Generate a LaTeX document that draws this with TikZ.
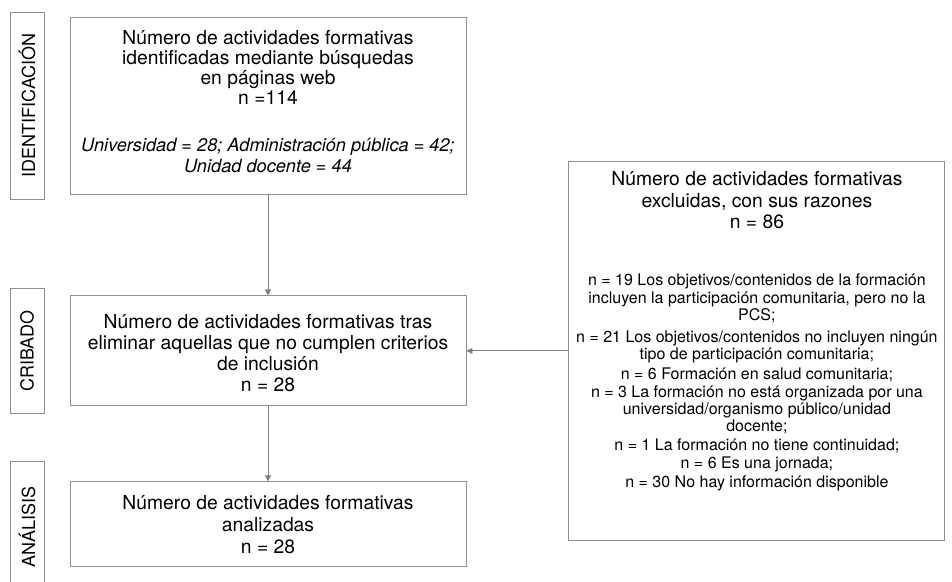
\documentclass[tikz,border=0pt]{standalone}
\usepackage{fontspec}
\setmainfont{TeX Gyre Heros}
\usetikzlibrary{positioning,arrows.meta}
\definecolor{boxgray}{HTML}{8E8E8E}
\definecolor{arrowgray}{HTML}{7F7F7F}
\newcommand{\headfont}{\fontsize{19.3}{21}\selectfont}
\newcommand{\notefont}{\fontsize{18.2}{20}\selectfont\itshape}

\begin{document}
\begin{tikzpicture}[x=1pt, y=-1pt,
    flowbox/.style={draw=boxgray, line width=0.9pt, minimum width=396pt, align=center, inner sep=0pt, font=\fontsize{19.3}{21}\selectfont},
    stagebox/.style={draw=boxgray, line width=0.9pt, minimum width=34pt, inner sep=0pt, font=\fontsize{18}{20}\selectfont},
    flowarrow/.style={-{Triangle[length=6pt, width=6pt]}, draw=arrowgray, line width=0.9pt}]
    \useasboundingbox (0,0) rectangle (952,581);

    % Define main boxes
    \node[flowbox, minimum height=177pt] (found) at (268,105.5)
        {Número de actividades formativas\\[-1pt] identificadas mediante búsquedas\\[-1pt] en páginas web\\[-1pt] n =114\\[26pt]
         \notefont Universidad = 28; Administración pública = 42;\\ \notefont Unidad docente = 44\\[-20pt]\strut};
    \node[flowbox, minimum height=110pt, below=101pt of found] (screened)
        {Número de actividades formativas tras\\ eliminar aquellas que no cumplen criterios\\ de inclusión\\ n = 28\\[-31pt]\strut};
    \node[flowbox, minimum height=85pt, below=75pt of screened] (analysed)
        {Número de actividades formativas\\[1pt] analizadas\\[1pt] n = 28};

    % Excluded activities
    \node[draw=boxgray, line width=0.9pt, minimum width=376pt, minimum height=379pt, align=center, inner sep=0pt,
          font=\fontsize{16}{17.2}\selectfont, right=102pt of screened] (excluded)
        {\headfont Número de actividades formativas\\[5pt] \headfont excluidas, con sus razones\\[4pt] \headfont n = 86\\[40pt]
         n = 19 Los objetivos/contenidos de la formación\\ incluyen la participación comunitaria, pero no la\\ PCS;\\[5pt]
         n = 21 Los objetivos/contenidos no incluyen ningún\\ tipo de participación comunitaria;\\[3pt]
         n = 6 Formación en salud comunitaria;\\
         n = 3 La formación no está organizada por una\\ universidad/organismo público/unidad\\ docente;\\[2pt]
         n = 1 La formación no tiene continuidad;\\[1pt]
         n = 6 Es una jornada;\\[1pt]
         n = 30 No hay información disponible\\[21pt]\strut};

    % Stage labels
    \node[stagebox, minimum height=187pt, left=25pt of found] (ident) {\rotatebox{90}{IDENTIFICACIÓN}};
    \node[stagebox, minimum height=125pt, left=25pt of screened] (crib) {\rotatebox{90}{CRIBADO}};
    \node[stagebox, minimum height=131pt, left=25pt of analysed, yshift=-2.5pt] (anal) {\rotatebox{90}{ANÁLISIS}};

    % Arrows between boxes
    \draw[flowarrow] (found) -- (screened);
    \draw[flowarrow] (screened) -- (analysed);
    \draw[flowarrow] (excluded) -- (screened);

\end{tikzpicture}
\end{document}
